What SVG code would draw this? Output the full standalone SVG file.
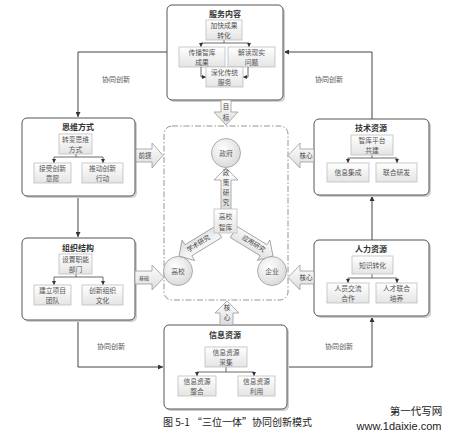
<svg xmlns="http://www.w3.org/2000/svg" width="456" height="439" viewBox="0 0 456 439">
<defs>
<linearGradient id="gIn" x1="0" y1="0" x2="0" y2="1"><stop offset="0" stop-color="#ffffff"/><stop offset="1" stop-color="#e4e4e4"/></linearGradient>
<linearGradient id="gArr" x1="0" y1="0" x2="0" y2="1"><stop offset="0" stop-color="#ffffff"/><stop offset="1" stop-color="#dcdcdc"/></linearGradient>
<radialGradient id="gCir" cx="0.4" cy="0.35" r="0.7"><stop offset="0" stop-color="#ffffff"/><stop offset="1" stop-color="#d8d8d8"/></radialGradient>
<marker id="ah" viewBox="0 0 6 6" refX="6" refY="3" markerWidth="5" markerHeight="5" orient="auto" markerUnits="userSpaceOnUse"><path d="M0,0 L6,3 L0,6 z" fill="#333"/></marker>
<marker id="ahs" viewBox="0 0 6 6" refX="6" refY="3" markerWidth="4" markerHeight="4" orient="auto" markerUnits="userSpaceOnUse"><path d="M0,0 L6,3 L0,6 z" fill="#333"/></marker>
</defs>
<style>
.ob{fill:#fff;stroke:#555;stroke-width:1}
.sh{fill:#cfcfcf}
.ib{fill:url(#gIn);stroke:#bdbdbd;stroke-width:0.8}
.t{font-family:"Noto Sans CJK SC","Noto Sans",sans-serif;font-size:8px;font-weight:bold;fill:#333;text-anchor:middle}
.it{font-family:"Noto Sans CJK SC","Noto Sans",sans-serif;font-size:6.8px;fill:#555;text-anchor:middle}
.at{font-family:"Noto Sans CJK SC","Noto Sans",sans-serif;font-size:6.5px;fill:#444;text-anchor:middle}
.lt{font-family:"Noto Sans CJK SC","Noto Sans",sans-serif;font-size:7px;fill:#555;text-anchor:middle}
.ln{fill:none;stroke:#444;stroke-width:1}
.sl{fill:none;stroke:#444;stroke-width:0.8}
.ba{fill:url(#gArr);stroke:#999;stroke-width:0.8}
.cir{fill:url(#gCir);stroke:#999;stroke-width:0.8}
</style>

<g id="connectors">
<path class="ln" d="M167,52 H78 V117" marker-end="url(#ah)"/>
<path class="ln" d="M78,196 V237" marker-end="url(#ah)"/>
<path class="ln" d="M78,320 V367 H163" marker-end="url(#ah)"/>
<path class="ln" d="M287,367 H372 V317" marker-end="url(#ah)"/>
<path class="ln" d="M372,240 V196" marker-end="url(#ah)"/>
<path class="ln" d="M372,119 V52 H284" marker-end="url(#ah)"/>
<text class="lt" x="116" y="82">协同创新</text>
<text class="lt" x="329" y="82">协同创新</text>
<text class="lt" x="111" y="349">协同创新</text>
<text class="lt" x="339" y="349">协同创新</text>
</g>

<g id="core-area">
<rect x="164" y="126" width="124" height="174" rx="8" fill="none" stroke="#888" stroke-width="0.9" stroke-dasharray="6 2 1.5 2"/>
</g>

<g id="node-fuwu">
<rect class="sh" x="169" y="7" width="116" height="95" rx="5"/>
<rect class="ob" x="167" y="5" width="116" height="95" rx="5"/>
<text class="t" x="225" y="17">服务内容</text>
<path class="sl" d="M224,40 V43 M201,43 H249"/>
<path class="sl" d="M201,43 V47" marker-end="url(#ahs)"/>
<path class="sl" d="M249,43 V47" marker-end="url(#ahs)"/>
<rect class="ib" x="206" y="20" width="36" height="20"/>
<text class="it" x="224" y="28">加快成果</text><text class="it" x="224" y="38">转化</text>
<rect class="ib" x="179" y="47" width="46" height="20"/>
<text class="it" x="202" y="55">传播智库</text><text class="it" x="202" y="65">成果</text>
<rect class="ib" x="228" y="47" width="47" height="20"/>
<text class="it" x="251.5" y="55">解读现实</text><text class="it" x="251.5" y="65">问题</text>
<path class="sl" d="M201,67 V77 H206" marker-end="url(#ahs)"/>
<path class="sl" d="M248,67 V77 H243" marker-end="url(#ahs)"/>
<rect class="ib" x="206" y="67" width="37" height="20"/>
<text class="it" x="224.5" y="75">深化传统</text><text class="it" x="224.5" y="85">服务</text>
</g>

<g id="node-siwei">
<rect class="sh" x="24" y="120" width="113" height="78" rx="5"/>
<rect class="ob" x="22" y="118" width="113" height="78" rx="5"/>
<text class="t" x="78" y="129.5">思维方式</text>
<path class="sl" d="M76,154 V157 M54,157 H103"/>
<path class="sl" d="M54,157 V163" marker-end="url(#ahs)"/>
<path class="sl" d="M103,157 V163" marker-end="url(#ahs)"/>
<rect class="ib" x="59" y="134" width="33" height="20"/>
<text class="it" x="75.5" y="142">转变思维</text><text class="it" x="75.5" y="152">方式</text>
<rect class="ib" x="34" y="163" width="37" height="20"/>
<text class="it" x="52.5" y="171">接受创新</text><text class="it" x="52.5" y="181">意愿</text>
<rect class="ib" x="82" y="163" width="41" height="20"/>
<text class="it" x="102.5" y="171">推动创新</text><text class="it" x="102.5" y="181">行动</text>
</g>

<g id="node-zuzhi">
<rect class="sh" x="24" y="240" width="113" height="82" rx="5"/>
<rect class="ob" x="22" y="238" width="113" height="82" rx="5"/>
<text class="t" x="78" y="251">组织结构</text>
<path class="sl" d="M76,274 V277 M54,277 H103"/>
<path class="sl" d="M54,277 V285" marker-end="url(#ahs)"/>
<path class="sl" d="M103,277 V285" marker-end="url(#ahs)"/>
<rect class="ib" x="59" y="254" width="33" height="20"/>
<text class="it" x="75.5" y="262">设置职能</text><text class="it" x="75.5" y="272">部门</text>
<rect class="ib" x="34" y="285" width="37" height="20"/>
<text class="it" x="52.5" y="293">建立项目</text><text class="it" x="52.5" y="303">团队</text>
<rect class="ib" x="82" y="285" width="41" height="20"/>
<text class="it" x="102.5" y="293">创新组织</text><text class="it" x="102.5" y="303">文化</text>
</g>

<g id="node-jishu">
<rect class="sh" x="316" y="121" width="115" height="76" rx="5"/>
<rect class="ob" x="314" y="119" width="115" height="76" rx="5"/>
<text class="t" x="371" y="131">技术资源</text>
<path class="sl" d="M372,155 V158 M348,158 H397"/>
<path class="sl" d="M348,158 V163" marker-end="url(#ahs)"/>
<path class="sl" d="M397,158 V163" marker-end="url(#ahs)"/>
<rect class="ib" x="351" y="135" width="42" height="20"/>
<text class="it" x="372" y="143">智库平台</text><text class="it" x="372" y="153">共建</text>
<rect class="ib" x="327" y="163" width="42" height="19"/>
<text class="it" x="348" y="175">信息集成</text>
<rect class="ib" x="376" y="163" width="41" height="19"/>
<text class="it" x="396.5" y="175">联合研发</text>
</g>

<g id="node-renli">
<rect class="sh" x="316" y="242" width="115" height="76" rx="5"/>
<rect class="ob" x="314" y="240" width="115" height="76" rx="5"/>
<text class="t" x="371" y="252">人力资源</text>
<path class="sl" d="M372,274 V278 M348,278 H397"/>
<path class="sl" d="M348,278 V283" marker-end="url(#ahs)"/>
<path class="sl" d="M397,278 V283" marker-end="url(#ahs)"/>
<rect class="ib" x="352" y="256" width="41" height="18"/>
<text class="it" x="372.5" y="267.5">知识转化</text>
<rect class="ib" x="327" y="283" width="42" height="20"/>
<text class="it" x="348" y="291">人员交流</text><text class="it" x="348" y="301">合作</text>
<rect class="ib" x="376" y="283" width="41" height="20"/>
<text class="it" x="396.5" y="291">人才联合</text><text class="it" x="396.5" y="301">培养</text>
</g>

<g id="node-xinxi">
<rect class="sh" x="166" y="327" width="123" height="84" rx="5"/>
<rect class="ob" x="164" y="325" width="123" height="84" rx="5"/>
<text class="t" x="225" y="338">信息资源</text>
<path class="sl" d="M226,367 V372 M197,372 H254"/>
<path class="sl" d="M197,372 V376" marker-end="url(#ahs)"/>
<path class="sl" d="M254,372 V376" marker-end="url(#ahs)"/>
<rect class="ib" x="205" y="347" width="42" height="20"/>
<text class="it" x="226" y="355">信息资源</text><text class="it" x="226" y="365">采集</text>
<rect class="ib" x="178" y="376" width="38" height="20"/>
<text class="it" x="197" y="384">信息资源</text><text class="it" x="197" y="394">整合</text>
<rect class="ib" x="238" y="376" width="37" height="20"/>
<text class="it" x="256.5" y="384">信息资源</text><text class="it" x="256.5" y="394">利用</text>
</g>

<g id="arrow-mubiao">
<polygon class="ba" points="221,100 231,100 231,112 238,112 226,125 214,112 221,112"/>
<text class="at" x="226" y="109">目</text><text class="at" x="226" y="119.5">标</text>
</g>
<g id="arrow-qianti">
<polygon class="ba" points="136,149 152,149 152,143 163,155.5 152,168 152,162 136,162"/>
<text class="at" x="145" y="158">前提</text>
</g>
<g id="arrow-jichu">
<polygon class="ba" points="135,271 152,271 152,265 164,277.5 152,290 152,284 135,284"/>
<text class="at" x="144" y="279.5" style="font-size:5px">基础</text>
</g>
<g id="arrow-hexin-jishu">
<polygon class="ba" points="314,149 300,149 300,143 288,155.5 300,168 300,162 314,162"/>
<text class="at" x="306" y="158">核心</text>
</g>
<g id="arrow-hexin-renli">
<polygon class="ba" points="314,271 300,271 300,265 288,277.5 300,290 300,284 314,284"/>
<text class="at" x="306" y="280">核心</text>
</g>
<g id="arrow-hexin-xinxi">
<polygon class="ba" points="220,325 220,313 215,313 227,301 239,313 233,313 233,325"/>
<text class="at" x="227" y="310">核</text><text class="at" x="227" y="320">心</text>
</g>

<g id="arrow-xueshu">
<polygon class="ba" transform="translate(179,256) rotate(148.6)" points="0,0 -11,-12 -11,-6.5 -46,-6.5 -46,6.5 -11,6.5 -11,12"/>
<text class="at" transform="translate(199.5,245.5) rotate(-31.4)" x="0" y="0">学术研究</text>
</g>
<g id="arrow-yingyong">
<polygon class="ba" transform="translate(273,256) rotate(31.4)" points="0,0 -11,-12 -11,-6.5 -46,-6.5 -46,6.5 -11,6.5 -11,12"/>
<text class="at" transform="translate(252.5,245.5) rotate(31.4)" x="0" y="0">应用研究</text>
</g>
<g id="arrow-zhengce">
<polygon class="ba" points="226,168 238,180 231,180 231,210 221,210 221,180 214,180"/>
<text class="at" x="226" y="174.5">政</text><text class="at" x="226" y="184.5">策</text><text class="at" x="226" y="194.5">研</text><text class="at" x="226" y="204.5">究</text>
</g>

<g id="node-zhengfu">
<circle class="cir" cx="226" cy="153" r="14.5"/>
<text class="it" x="226" y="155.5">政府</text>
</g>
<g id="node-gaoxiao">
<circle class="cir" cx="178" cy="271" r="14.5"/>
<text class="it" x="178" y="273.5">高校</text>
</g>
<g id="node-qiye">
<circle class="cir" cx="272" cy="271" r="14.5"/>
<text class="it" x="272" y="273.5">企业</text>
</g>
<g id="node-zhiku">
<rect class="ib" x="214" y="209" width="23" height="24"/>
<text class="it" x="225.5" y="219">高校</text><text class="it" x="225.5" y="229.5">智库</text>
</g>

<g id="caption">
<text x="163" y="426" style="font-family:'Noto Sans CJK SC','Noto Sans',sans-serif;font-size:10px;fill:#222">图 5-1  “三位一体”协同创新模式</text>
<text x="416" y="415" style="font-family:'Noto Sans CJK SC',sans-serif;font-size:10.5px;fill:#222;text-anchor:middle">第一代写网</text>
<text x="399" y="430" style="font-family:'Liberation Sans',sans-serif;font-size:11px;fill:#222;text-anchor:middle">www.1daixie.com</text>
</g>
</svg>
